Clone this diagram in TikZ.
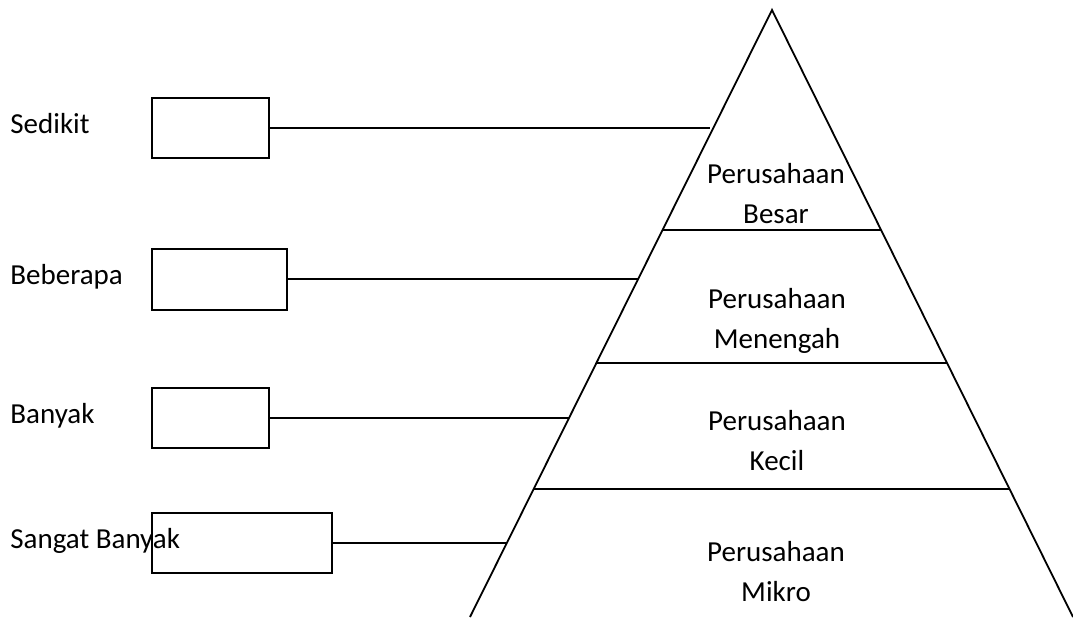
\documentclass[tikz,border=0pt]{standalone}
\usepackage{fontspec}
\setmainfont{Carlito}
\usetikzlibrary{calc}

\begin{document}
\begin{tikzpicture}[x=0.5pt,y=-0.5pt,
  kotak/.style={draw, line width=1pt, inner sep=0pt},
  tingkat/.style={align=center, inner sep=0pt, font=\fontsize{14.5}{20}\selectfont},
  ket/.style={anchor=base west, inner sep=0pt, font=\fontsize{14.5}{17}\selectfont},
  garis/.style={line width=0.9pt}]
\useasboundingbox (0,0) rectangle (1073,617);

% piramida
\coordinate (puncak) at (772,10);
\coordinate (kiri) at (470,617);
\coordinate (kanan) at (1073,617);
\draw[garis] (kiri) -- (puncak) -- (kanan);

% batas tiap tingkat
\draw[garis] ($(puncak)!0.3624!(kiri)$) -- ($(puncak)!0.3624!(kanan)$);
\draw[garis] ($(puncak)!0.5815!(kiri)$) -- ($(puncak)!0.5815!(kanan)$);
\draw[garis] ($(puncak)!0.7891!(kiri)$) -- ($(puncak)!0.7891!(kanan)$);

% isi piramida
\node[tingkat] (besar) at (776,194) {Perusahaan\\Besar};
\node[tingkat] (menengah) at (777,321) {Perusahaan\\Menengah};
\node[tingkat] (kecil) at (777,441) {Perusahaan\\Kecil};
\node[tingkat] (mikro) at (776,572) {Perusahaan\\Mikro};

% kotak kosong
\node[kotak, minimum width=58.5pt, minimum height=30pt] (k1) at (210.5,128) {};
\node[kotak, minimum width=67.5pt, minimum height=30.5pt] (k2) at (219.5,279) {};
\node[kotak, minimum width=58.5pt, minimum height=30pt] (k3) at (210.5,418) {};
\node[kotak, minimum width=90pt, minimum height=30pt] (k4) at (242,543) {};

% titik ujung di sisi kiri
\coordinate (u1) at ($(puncak)!0.205!(kiri)$);
\coordinate (u2) at ($(puncak)!0.4423!(kiri)$);
\coordinate (u3) at ($(puncak)!0.6722!(kiri)$);
\coordinate (u4) at ($(puncak)!0.8781!(kiri)$);

\draw[garis] (k1.east) -- (k1.east -| u1);
\draw[garis] (k2.east) -- (k2.east -| u2);
\draw[garis] (k3.east) -- (k3.east -| u3);
\draw[garis] (k4.east) -- (k4.east -| u4);

% keterangan
\node[ket] (sedikit) at (10,133) {Sedikit};
\node[ket] (beberapa) at (10,284) {Beberapa};
\node[ket] (banyak) at (10,423) {Banyak};
\node[ket] (sangat) at (10,548) {Sangat Banyak};
\end{tikzpicture}
\end{document}
